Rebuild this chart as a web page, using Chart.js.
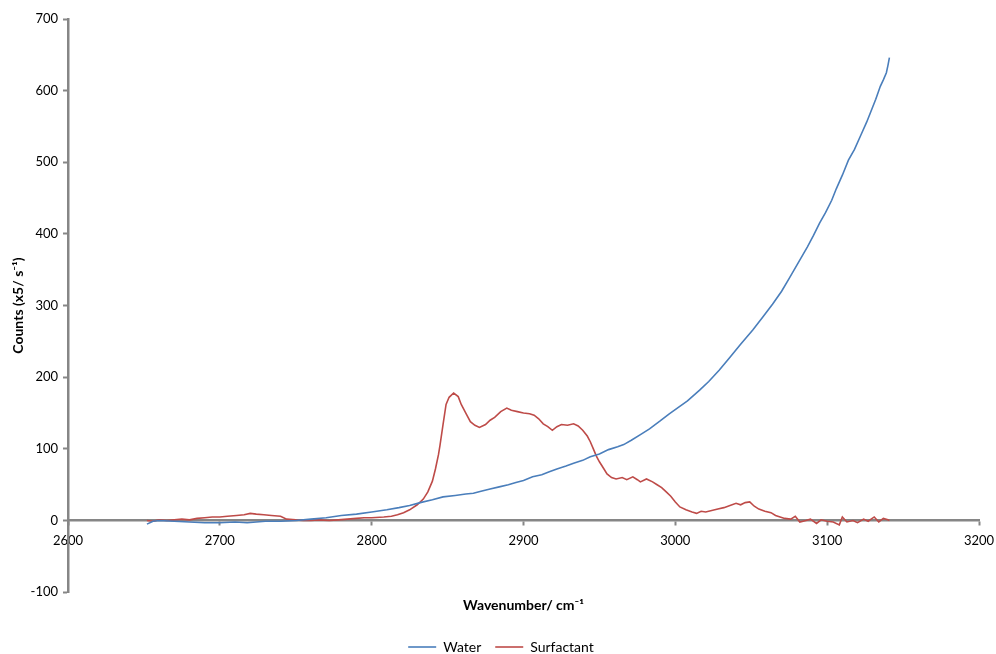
<!DOCTYPE html>
<html>
<head>
<meta charset="utf-8">
<script src="https://cdn.jsdelivr.net/npm/chart.js@4.4.1/dist/chart.umd.min.js"></script>
<style>
    body { margin: 0; background: #fff; }
    #wrap { width: 996px; height: 654px; position: relative; }
</style>
</head>
<body>
<div id="wrap"><canvas id="ramanChart"></canvas></div>
<script>
// Water spectrum (wavenumber, counts)
const waterX = [2652, 2656, 2660, 2670, 2680, 2690, 2700, 2710, 2718, 2730, 2740, 2750, 2760, 2770, 2780, 2790,
    2800, 2810, 2818, 2825, 2832, 2840, 2847, 2855, 2862, 2867, 2872, 2878, 2884, 2890, 2895, 2900, 2906, 2912,
    2917, 2922, 2928, 2933, 2939, 2944, 2950, 2956, 2962, 2966, 2971, 2977, 2983, 2990, 2996, 3002, 3008, 3016,
    3022, 3029, 3036, 3043, 3051, 3058, 3064, 3070, 3075, 3081, 3087, 3091, 3095, 3099, 3103, 3106, 3110, 3114,
    3118, 3122, 3126, 3129, 3132, 3135, 3137, 3139, 3140, 3141];
const waterY = [-5, -1, 0, -1, -2, -3, -3, -2, -3, -1, -1, 0, 2, 4, 7, 9,
    12, 15, 18, 21, 25, 29, 33, 35, 37, 38, 41, 44, 47, 50, 53, 56, 61, 64,
    68, 72, 76, 80, 84, 89, 93, 99, 103, 106, 112, 120, 128, 139, 149, 158, 167, 182,
    194, 210, 228, 246, 266, 285, 302, 320, 338, 360, 382, 398, 415, 430, 447, 463, 482, 503,
    518, 537, 556, 572, 588, 606, 615, 625, 635, 646];

// Surfactant spectrum (wavenumber, counts)
const surfX = [2652, 2656, 2660, 2665, 2670, 2675, 2680, 2685, 2690, 2695, 2700, 2705, 2711, 2716, 2720, 2724,
    2729, 2734, 2740, 2744, 2750, 2755, 2760, 2765, 2772, 2778, 2784, 2790, 2795, 2800, 2808, 2813, 2817, 2821,
    2825, 2830, 2834, 2837, 2840, 2842, 2844, 2845, 2847, 2849, 2851, 2854, 2857, 2859, 2862, 2865, 2868, 2871,
    2875, 2878, 2881, 2885, 2889, 2892, 2896, 2900, 2904, 2907, 2910, 2913, 2916, 2919, 2922, 2925, 2929, 2933,
    2936, 2939, 2942, 2944, 2946, 2948, 2950, 2953, 2955, 2958, 2961, 2965, 2968, 2972, 2975, 2977, 2981, 2985,
    2988, 2991, 2994, 2997, 3000, 3003, 3007, 3011, 3014, 3017, 3020, 3024, 3028, 3032, 3036, 3040, 3043, 3046,
    3049, 3052, 3055, 3059, 3063, 3066, 3069, 3072, 3076, 3079, 3082, 3086, 3089, 3093, 3096, 3100, 3104, 3108,
    3110, 3113, 3117, 3120, 3124, 3127, 3131, 3134, 3137, 3140, 3141];
const surfY = [0, -1, 1, 0, 1, 2, 1, 3, 4, 5, 5, 6, 7, 8, 10, 9,
    8, 7, 6, 2, 1, 0, 0, 1, 0, 1, 2, 3, 4, 4, 5, 6, 8, 11,
    15, 22, 30, 40, 55, 72, 92, 105, 134, 162, 172, 178, 173, 162, 150, 138, 133, 130,
    134, 140, 144, 152, 157, 154, 152, 150, 149, 147, 142, 135, 131, 126, 131, 134, 133, 135,
    132, 126, 118, 110, 100, 90, 82, 72, 65, 60, 58, 60, 57, 61, 57, 54, 58, 54,
    50, 46, 40, 34, 26, 19, 15, 12, 10, 13, 12, 14, 16, 18, 21, 24, 22, 25,
    26, 20, 16, 13, 11, 7, 5, 3, 2, 6, -2, 0, 2, -4, 1, -1, -2, -6,
    5, -2, 0, -3, 2, -1, 5, -2, 3, 1, 0];

const seriesNames = ['Water', 'Surfactant'];
const xTitle = 'Wavenumber/ cm\u207B\u00B9';
const yTitle = 'Counts (x5/ s\u207B\u00B9)';

const axisGray = '#868686';
const fontFamily = 'Lato, "Open Sans", sans-serif';

function toPoints(xs, ys) {
    return xs.map((x, i) => ({ x: x, y: ys[i] }));
}

// plain numbers, no thousands separator
function plainTick(value) {
    return String(value);
}

new Chart(document.getElementById('ramanChart'), {
    type: 'line',
    data: {
        datasets: [{
            label: seriesNames[0],
            data: toPoints(waterX, waterY),
            borderColor: '#4a7ebb',
            backgroundColor: '#4a7ebb',
            borderWidth: 1.6,
            pointRadius: 0,
            tension: 0
        }, {
            label: seriesNames[1],
            data: toPoints(surfX, surfY),
            borderColor: '#be4b48',
            backgroundColor: '#be4b48',
            borderWidth: 1.6,
            pointRadius: 0,
            tension: 0
        }]
    },
    options: {
        responsive: true,
        maintainAspectRatio: false,
        animation: false,
        layout: { padding: { top: 19, right: 17, bottom: -10, left: 23 } },
        scales: {
            x: {
                type: 'linear',
                position: { y: 0 },
                min: 2600,
                max: 3200,
                ticks: { stepSize: 100, color: '#000', font: { family: fontFamily, size: 13 }, padding: 8, maxRotation: 0, callback: plainTick },
                grid: { drawOnChartArea: false, drawTicks: true, tickLength: 4, tickColor: axisGray, tickWidth: 2 },
                border: { display: true, color: axisGray, width: 2.5 },
                afterFit: function(scale) { scale.paddingLeft = 0; scale.paddingRight = 0; }
            },
            y: {
                min: -100,
                max: 700,
                ticks: { stepSize: 100, color: '#000', font: { family: fontFamily, size: 13 }, padding: 5, callback: plainTick },
                grid: { drawOnChartArea: false, drawTicks: true, tickLength: 5, tickColor: axisGray, tickWidth: 2 },
                border: { display: true, color: axisGray, width: 2.5 },
                title: { display: true, text: yTitle, color: '#000', font: { family: fontFamily, size: 14, weight: 'bold' }, padding: { top: -13, bottom: 0 } },
                afterFit: function(scale) { scale.width = 45; }
            }
        },
        plugins: {
            title: {
                display: true,
                position: 'bottom',
                fullSize: false,
                text: xTitle,
                color: '#000',
                font: { family: fontFamily, size: 14, weight: 'bold' },
                padding: { top: 5, bottom: 12 }
            },
            legend: {
                position: 'bottom',
                weight: 3000,
                labels: {
                    color: '#000',
                    font: { family: fontFamily, size: 14 },
                    usePointStyle: true,
                    pointStyle: 'line',
                    pointStyleWidth: 28,
                    boxHeight: 10,
                    padding: 14
                }
            },
            tooltip: { enabled: false }
        }
    }
});
</script>
</body>
</html>
